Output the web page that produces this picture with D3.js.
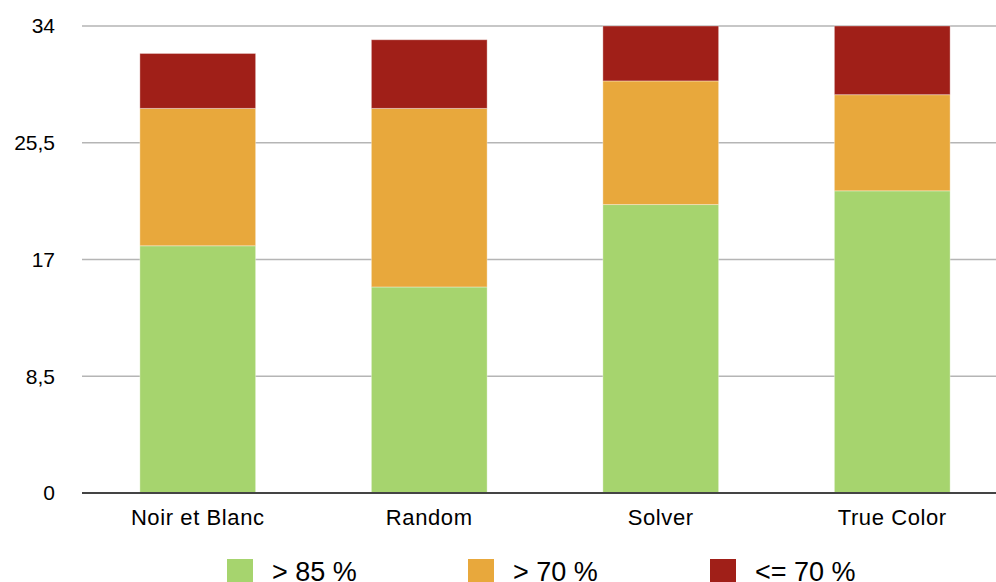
<!DOCTYPE html>
<html><head><meta charset="utf-8">
<script src="https://cdn.jsdelivr.net/npm/d3@7"></script>
<style>body{margin:0;background:#fff}svg{display:block}text{font-family:"Liberation Sans",Arial,sans-serif;fill:#000}</style>
</head><body><svg id="c" width="996" height="582"></svg>
<script>
const categories = ["Noir et Blanc", "Random", "Solver", "True Color"];
const seriesNames = ["> 85 %", "> 70 %", "<= 70 %"];
const above85 = [18, 15, 21, 22];
const above70 = [10, 13, 9, 7];
const below70 = [4, 5, 4, 5];
const tickValues = [0, 8.5, 17, 25.5, 34];
const colors = ["#a6d46e", "#e8a83c", "#a01f18"];

const svg = d3.select("#c");
const x = d3.scaleBand().domain(categories).range([82, 1008]).paddingInner(0.5).paddingOuter(0.25);
const y = d3.scaleLinear().domain([0, 34]).range([493, 26]);

const rows = categories.map((c, i) => ({cat: c, s0: above85[i], s1: above70[i], s2: below70[i]}));
const stack = d3.stack().keys(["s0", "s1", "s2"])(rows);

// gridlines
svg.append("g").selectAll("line").data(tickValues.filter(v => v > 0)).join("line")
  .attr("x1", 82).attr("x2", 996).attr("y1", d => y(d)).attr("y2", d => y(d))
  .attr("stroke", "#b5b5b5").attr("stroke-width", 1.5);

// bars
svg.append("g").selectAll("g").data(stack).join("g")
  .attr("fill", (d, i) => colors[i])
  .selectAll("rect").data(d => d).join("rect")
  .attr("x", d => x(d.data.cat)).attr("width", x.bandwidth())
  .attr("y", d => y(d[1])).attr("height", d => y(d[0]) - y(d[1]))
  .attr("stroke", "rgba(255,255,255,0.35)").attr("stroke-width", 1);

// baseline
svg.append("line").attr("x1", 82).attr("x2", 996).attr("y1", y(0)).attr("y2", y(0))
  .attr("stroke", "#444").attr("stroke-width", 2);

// y tick labels
const fmt = d3.formatLocale({decimal: ",", thousands: " ", grouping: [3], currency: ["", "€"]}).format("~g");
svg.append("g").selectAll("text").data(tickValues).join("text")
  .attr("x", 55).attr("y", d => y(d)).attr("dy", "0.35em").attr("text-anchor", "end")
  .attr("font-size", 21).text(d => fmt(d));

// x labels
svg.append("g").selectAll("text").data(categories).join("text")
  .attr("x", d => x(d) + x.bandwidth() / 2).attr("y", 525)
  .attr("text-anchor", "middle").attr("font-size", 22).attr("letter-spacing", 0.6).text(d => d);

// legend
const legX = [227, 468, 710];
const leg = svg.append("g").selectAll("g").data(seriesNames).join("g")
  .attr("transform", (d, i) => `translate(${legX[i]},559)`);
leg.append("rect").attr("width", 26).attr("height", 23).attr("fill", (d, i) => colors[i]);
leg.append("text").attr("x", 45).attr("y", 22).attr("font-size", 27).text(d => d);
</script></body></html>
